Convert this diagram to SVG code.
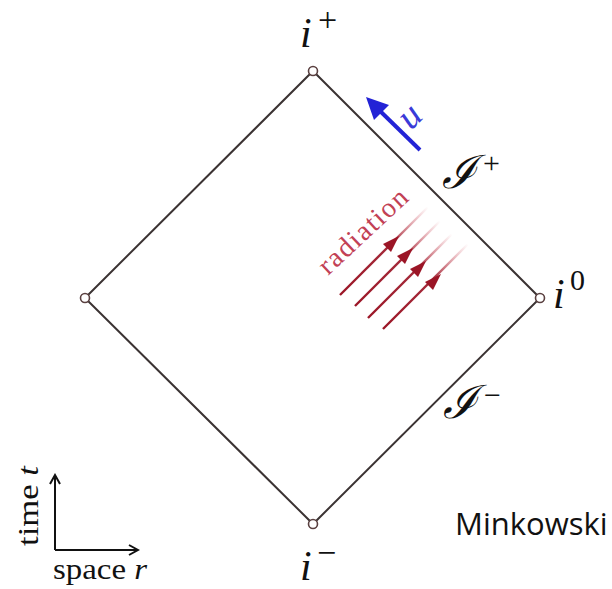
<svg xmlns="http://www.w3.org/2000/svg" width="612" height="589" viewBox="0 0 612 589">
<style>
.edge{fill:none;stroke:#3b3333;stroke-width:2}
.pt{fill:#fff;stroke:#5a4040;stroke-width:1.6}
.m{font-family:"Liberation Serif","DejaVu Serif",serif;font-style:italic;fill:#111}
.r{font-family:"Liberation Serif","DejaVu Serif",serif;fill:#111}
.sc{font-family:"DejaVu Serif","Liberation Serif",serif;font-style:italic;fill:#111}
.ax{fill:none;stroke:#111;stroke-width:2}
.rad{fill:none;stroke-width:2.4}
.radh{fill:#9b1526}
</style>
<defs>
<linearGradient id="fade" x1="0" y1="1" x2="1" y2="0">
<stop offset="0" stop-color="#9b1526"/>
<stop offset="0.6" stop-color="#9b1526" stop-opacity="0.9"/>
<stop offset="1" stop-color="#d85060" stop-opacity="0"/>
</linearGradient>
<marker id="open" markerWidth="12" markerHeight="12" refX="10" refY="6" orient="auto" markerUnits="userSpaceOnUse">
<path d="M1,1 L10,6 L1,11" fill="none" stroke="#111" stroke-width="2"/>
</marker>
</defs>
<g id="diamond">
<path class="edge" d="M313,71 L540,298 L313,524 L85,298 Z"/>
</g>
<g id="i-plus"><circle class="pt" cx="313" cy="71" r="4.5"/>
<text class="m" x="300" y="47" font-size="42">i</text><text class="r" x="318" y="31" font-size="34">+</text></g>
<g id="i-zero"><circle class="pt" cx="540" cy="298" r="4.5"/>
<text class="m" x="553" y="308" font-size="42">i</text><text class="r" x="570" y="290" font-size="30">0</text></g>
<g id="i-minus"><circle class="pt" cx="313" cy="524" r="4.5"/>
<text class="m" x="300" y="580" font-size="42">i</text><text class="r" x="317" y="564" font-size="34">−</text></g>
<g id="left"><circle class="pt" cx="85" cy="298" r="4.5"/></g>
<g id="scri-plus"><text class="sc" x="442" y="188" font-size="46">ℐ</text><text class="r" x="483" y="173" font-size="30">+</text></g>
<g id="scri-minus"><text class="sc" x="443" y="418" font-size="46">ℐ</text><text class="r" x="484" y="405" font-size="30">−</text></g>
<g id="u-arrow">
<line x1="420" y1="150" x2="378" y2="109" stroke="#2323d6" stroke-width="4"/>
<path d="M366,97 L389,105 L374,120 Z" fill="#2323d6"/>
<text x="0" y="0" font-family="Liberation Serif,DejaVu Serif,serif" font-style="italic" font-size="38" fill="#3a3ad8" transform="translate(411,131) rotate(-45)">u</text>
</g>
<g id="radiation">
<text x="0" y="0" font-family="Liberation Serif,DejaVu Serif,serif" font-size="28" fill="#c24155" transform="translate(328,276) rotate(-43)" textLength="112">radiation</text>
<line class="rad" x1="340" y1="295" x2="428" y2="207" stroke="url(#fade)"/>
<line class="rad" x1="355" y1="306" x2="440" y2="221" stroke="url(#fade)"/>
<line class="rad" x1="368" y1="318" x2="452" y2="234" stroke="url(#fade)"/>
<line class="rad" x1="383" y1="329" x2="468" y2="244" stroke="url(#fade)"/>
<path class="radh" d="M399,236 L383,244 L387,248 L391,252 Z"/>
<path class="radh" d="M413,248 L397,256 L401,260 L405,264 Z"/>
<path class="radh" d="M426,261 L410,269 L414,273 L418,277 Z"/>
<path class="radh" d="M441,274 L425,282 L429,286 L433,290 Z"/>
</g>
<g id="axes">
<line class="ax" x1="55" y1="550" x2="55" y2="475" marker-end="url(#open)"/>
<line class="ax" x1="55" y1="550" x2="138" y2="550" marker-end="url(#open)"/>
<text class="r" font-size="30" transform="translate(38,546) rotate(-90)" textLength="80" lengthAdjust="spacingAndGlyphs">time <tspan font-style="italic">t</tspan></text>
<text class="r" x="53" y="579" font-size="30" textLength="94" lengthAdjust="spacingAndGlyphs">space <tspan font-style="italic">r</tspan></text>
</g>
<g id="label"><text x="455" y="535" font-family="Open Sans,Noto Sans,sans-serif" font-size="31" fill="#111">Minkowski</text></g>
</svg>
